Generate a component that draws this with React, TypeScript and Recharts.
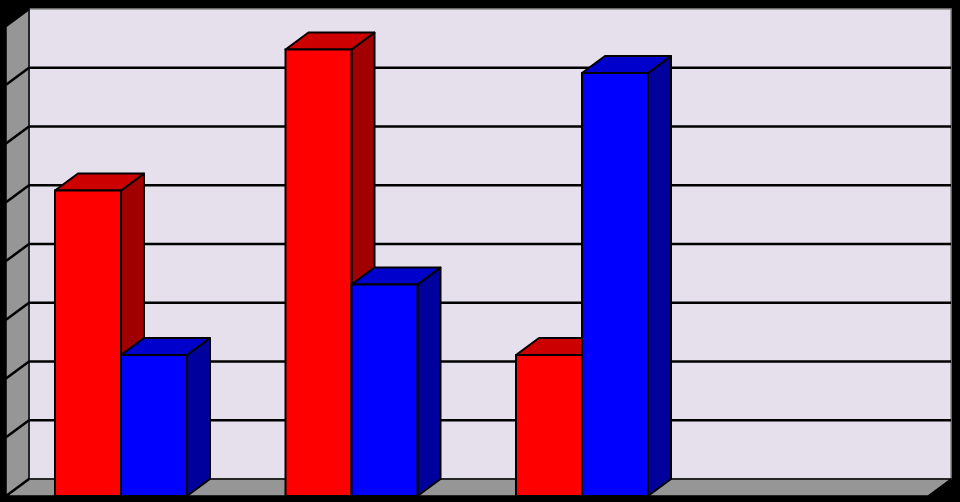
import React from 'react';
import { BarChart, Bar, XAxis, YAxis, CartesianGrid } from 'recharts';

const categories = ['A', 'B', 'C', 'D'];
const redValues = [52, 76, 24, null];
const blueValues = [24, 36, 72, null];
const yTicks = [0, 10, 20, 30, 40, 50, 60, 70, 80];

const data = categories.map((c, i) => ({ name: c, red: redValues[i], blue: blueValues[i] }));

const W = 960;
const H = 502;
const M = { top: 26, right: 32, bottom: 6, left: 6 };
const DX = 23;
const DY = 17;
const PLOT_L = M.left;
const PLOT_R = W - M.right;
const PLOT_T = M.top;
const PLOT_B = H - M.bottom;

const WALL = '#E5E0EC';
const GRAY = '#969696';

const makeShape = (front: string, top: string, side: string) => (props: any) => {
  const { x, y, width, height } = props;
  if (height == null || height <= 0) return null;
  const x0 = x, x1 = x + width, y0 = y, y1 = y + height;
  return (
    <g>
      <polygon
        points={`${x1},${y0} ${x1 + DX},${y0 - DY} ${x1 + DX},${y1 - DY} ${x1},${y1}`}
        fill={side}
        stroke="#000"
        strokeWidth={2}
        strokeLinejoin="round"
      />
      <polygon
        points={`${x0},${y0} ${x0 + DX},${y0 - DY} ${x1 + DX},${y0 - DY} ${x1},${y0}`}
        fill={top}
        stroke="#000"
        strokeWidth={2}
        strokeLinejoin="round"
      />
      <rect x={x0} y={y0} width={width} height={height} fill={front} stroke="#000" strokeWidth={2} />
    </g>
  );
};

const RedShape = makeShape('#FF0000', '#CC0000', '#A00000');
const BlueShape = makeShape('#0000FF', '#0000CC', '#00009C');

const Walls = () => (
  <g>
    <rect x={PLOT_L + DX} y={PLOT_T - DY} width={PLOT_R - PLOT_L} height={PLOT_B - PLOT_T} fill={WALL} stroke="#8C8C8C" strokeWidth={1.5} />
    <polygon
      points={`${PLOT_L},${PLOT_T} ${PLOT_L + DX},${PLOT_T - DY} ${PLOT_L + DX},${PLOT_B - DY} ${PLOT_L},${PLOT_B}`}
      fill={GRAY}
      stroke="#000"
      strokeWidth={1.5}
    />
    <polygon
      points={`${PLOT_L},${PLOT_B} ${PLOT_L + DX},${PLOT_B - DY} ${PLOT_R + DX},${PLOT_B - DY} ${PLOT_R},${PLOT_B}`}
      fill={GRAY}
      stroke="#000"
      strokeWidth={1.5}
    />
  </g>
);

const GridLine = (props: any) => {
  const { y1, x1, x2, index } = props;
  const onBack = y1 > PLOT_T + 1 && y1 < PLOT_B - 1;
  return (
    <g key={`g-${index}`}>
      {index === 0 && <Walls />}
      <line x1={x1} y1={y1} x2={x1 + DX} y2={y1 - DY} stroke="#000" strokeWidth={2.5} />
      {onBack && <line x1={x1 + DX} y1={y1 - DY} x2={x2 + DX} y2={y1 - DY} stroke="#000" strokeWidth={2.5} />}
    </g>
  );
};

export default function App() {
  return (
    <div style={{ position: 'fixed', left: 0, top: 0, width: W, height: H, background: '#000' }}>
      <BarChart width={W} height={H} data={data} margin={M} barGap={0} barSize={66}>
        <CartesianGrid vertical={false} horizontal={GridLine as any} />
        <XAxis dataKey="name" hide />
        <YAxis hide domain={[0, 80]} ticks={yTicks} />
        <Bar dataKey="red" shape={RedShape} isAnimationActive={false} />
        <Bar dataKey="blue" shape={BlueShape} isAnimationActive={false} />
      </BarChart>
    </div>
  );
}
